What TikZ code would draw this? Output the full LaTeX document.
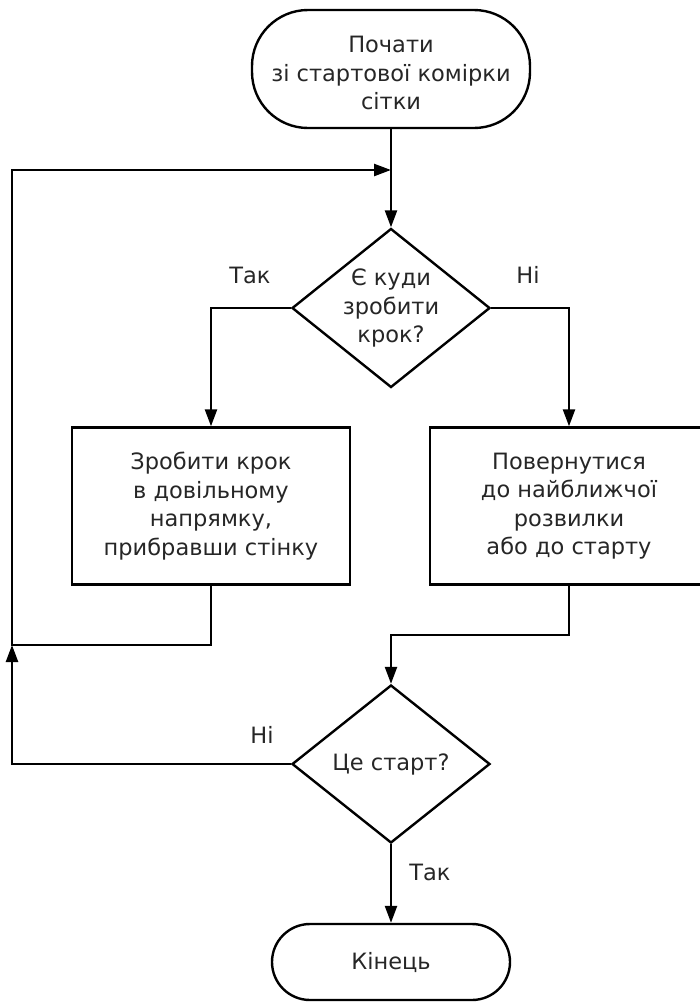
\documentclass[tikz,border=0pt]{standalone}
\usepackage{fontspec}
\setmainfont{DejaVu Sans}
\usetikzlibrary{arrows.meta,shapes.geometric,calc}

\definecolor{inkline}{HTML}{000000}
\definecolor{inktext}{HTML}{262626}

\tikzset{
  base/.style={draw=inkline, line width=2.4pt, text=inktext, align=center,
    font=\fontsize{22.5}{28.5}\selectfont, inner sep=0pt},
  terminal/.style={base, rectangle, rounded corners=#1},
  process/.style={base, rectangle, minimum width=278pt, minimum height=157pt},
  decision/.style={base, diamond, minimum width=198pt, minimum height=159pt},
  flow/.style={draw=inkline, line width=2.4pt, -{Triangle[length=17pt,width=12pt]}},
  wire/.style={draw=inkline, line width=2.4pt},
  tag/.style={text=inktext, font=\fontsize{22.5}{28.5}\selectfont, inner sep=0pt},
}

\begin{document}
\begin{tikzpicture}[x=1pt,y=-1pt]
\useasboundingbox (0,0) rectangle (700,1002);
\clip (0,0) rectangle (700,1002);

% terminals, steps and decisions
\node[terminal=56pt, minimum width=278pt, minimum height=118pt,
  label={[tag, align=center, yshift=-4pt]center:Почати\\зі стартової комірки\\сітки}] (start) at (391,69) {};
\node[decision, label={[tag, align=center]center:Є куди\\зробити\\крок?}] (ask) at (391,308) {};
\node[process] (step) at (211,506)
  {Зробити крок\\в довільному\\напрямку,\\прибравши стінку};
\node[process] (back) at (569,506)
  {Повернутися\\до найближчої\\розвилки\\або до старту};
\node[decision, minimum height=158pt, label={[tag]center:Це старт?}] (isstart) at (391,764) {};
\node[terminal=38pt, minimum width=238pt, minimum height=76pt] (finish) at (391,962) {Кінець};

% helper points of the routed connectors
\coordinate (join) at (391,170);
\coordinate (loopturn) at (12,645);
\coordinate (merge) at (391,635);

% connectors
\draw[wire] (start.south) -- (join);
\draw[flow] (join) -- (ask.north);
\draw[flow] (ask.west) -| (step.north);
\draw[flow] (ask.east) -| (back.north);
\draw[flow] (step.south) |- (loopturn) -- (loopturn |- join) -- (join);
\draw[flow] (back.south) |- (merge) -- (isstart.north);
\draw[flow] (isstart.west) -| (loopturn);
\draw[flow] (isstart.south) -- (finish.north);

% branch labels
\node[tag] (yes1) at (250,275) {Так};
\node[tag] (no1) at (528,275) {Ні};
\node[tag] (no2) at (262,735) {Ні};
\node[tag] (yes2) at (430,872) {Так};
\end{tikzpicture}
\end{document}
